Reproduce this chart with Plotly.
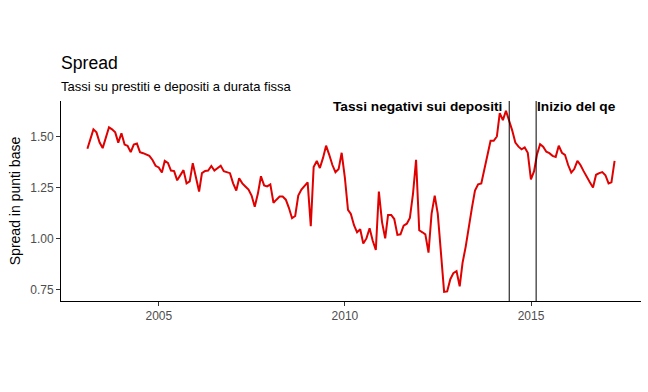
import plotly.graph_objects as go
import pandas as pd

# Monthly spread (end of month), Jan 2003 - Mar 2017
start_month = "2003-01-31"
end_month = "2017-03-31"
spread = [
    1.44, 1.49, 1.535, 1.52, 1.47, 1.443, 1.50, 1.545, 1.535, 1.52, 1.47, 1.516,
    1.46, 1.454, 1.423, 1.46, 1.465, 1.423, 1.418, 1.41, 1.405, 1.385, 1.356, 1.348,
    1.323, 1.38, 1.37, 1.333, 1.33, 1.285, 1.31, 1.335, 1.27, 1.28, 1.369, 1.30,
    1.23, 1.32, 1.331, 1.333, 1.355, 1.333, 1.343, 1.357, 1.33, 1.324, 1.32, 1.27,
    1.235, 1.295, 1.27, 1.255, 1.24, 1.21, 1.155, 1.22, 1.305, 1.26, 1.255, 1.265,
    1.175, 1.19, 1.205, 1.205, 1.19, 1.15, 1.099, 1.11, 1.21, 1.24, 1.26, 1.275,
    1.06, 1.35, 1.38, 1.345, 1.395, 1.455, 1.41, 1.36, 1.325, 1.34, 1.42, 1.30,
    1.14, 1.12, 1.065, 1.03, 1.045, 0.975, 1.0, 1.05, 0.99, 0.943, 1.23, 1.08,
    1.0, 1.115, 1.115, 1.095, 1.017, 1.02, 1.063, 1.072, 1.10, 1.22, 1.386, 1.04,
    1.03, 1.02, 0.93, 1.12, 1.21, 1.12, 0.93, 0.738, 0.74, 0.80, 0.83, 0.84,
    0.765, 0.88, 0.96, 1.06, 1.15, 1.235, 1.265, 1.27, 1.335, 1.405, 1.479, 1.479,
    1.50, 1.615, 1.58, 1.626, 1.58, 1.53, 1.47, 1.45, 1.437, 1.446, 1.42, 1.29,
    1.33, 1.41, 1.462, 1.45, 1.425, 1.418, 1.405, 1.40, 1.455, 1.42, 1.41, 1.36,
    1.323, 1.34, 1.38, 1.36, 1.33, 1.30, 1.275, 1.25, 1.312, 1.32, 1.325, 1.31,
    1.27, 1.275, 1.38,
]

event_dates = ["2014-06-01", "2015-02-20"]
event_labels = ["Tassi negativi sui depositi", "Inizio del qe"]
event_label_y = 1.646

x_tick_vals = ["2005-01-01", "2010-01-01", "2015-01-01"]
x_tick_text = ["2005", "2010", "2015"]
y_tick_vals = [0.75, 1.00, 1.25, 1.50]

title_text = "Spread"
subtitle_text = "Tassi su prestiti e depositi a durata fissa"
y_title = "Spread in punti base"

try:
    dates = pd.date_range(start_month, end_month, freq="ME")
except Exception:
    dates = pd.date_range(start_month, end_month, freq="M")

FONT = "Liberation Sans, Arial, sans-serif"

fig = go.Figure()
fig.add_trace(go.Scatter(
    x=dates, y=spread, mode="lines",
    line=dict(color="#e00000", width=2),
    showlegend=False, hoverinfo="skip",
))

for d in event_dates:
    fig.add_shape(type="line", xref="x", yref="paper", x0=d, x1=d, y0=0, y1=1,
                  line=dict(color="black", width=1))

fig.add_annotation(x=event_dates[0], y=event_label_y, xref="x", yref="y",
                   text="<b>" + event_labels[0] + "</b>", showarrow=False,
                   xanchor="right", yanchor="middle", xshift=-5,
                   font=dict(family=FONT, size=13.7, color="black"))
fig.add_annotation(x=event_dates[1], y=event_label_y, xref="x", yref="y",
                   text="<b>" + event_labels[1] + "</b>", showarrow=False,
                   xanchor="left", yanchor="middle", xshift=-1,
                   font=dict(family=FONT, size=13.7, color="black"))

# Title and subtitle
fig.add_annotation(x=0, y=1.19, xref="paper", yref="paper", text=title_text,
                   showarrow=False, xanchor="left", yanchor="middle", xshift=-2,
                   font=dict(family=FONT, size=17.6, color="black"))
fig.add_annotation(x=0, y=1.07, xref="paper", yref="paper", text=subtitle_text,
                   showarrow=False, xanchor="left", yanchor="middle", xshift=-2,
                   font=dict(family=FONT, size=13, color="black"))

fig.update_layout(
    width=648, height=392,
    margin=dict(l=61, r=7, t=101, b=91),
    paper_bgcolor="white", plot_bgcolor="white",
    font=dict(family=FONT),
)
fig.update_xaxes(
    type="date", range=["2002-05-17", "2017-12-15"],
    tickvals=x_tick_vals, ticktext=x_tick_text,
    showline=True, linecolor="black", linewidth=1,
    ticks="outside", ticklen=4, tickcolor="#333333",
    showgrid=False, zeroline=False,
    tickfont=dict(family=FONT, size=12, color="#4d4d4d"),
)
fig.update_yaxes(
    range=[0.693, 1.674], tickvals=y_tick_vals, tickformat=".2f",
    showline=True, linecolor="black", linewidth=1,
    ticks="outside", ticklen=4, tickcolor="#333333",
    showgrid=False, zeroline=False,
    tickfont=dict(family=FONT, size=12, color="#4d4d4d"),
    title=dict(text=y_title, font=dict(family=FONT, size=14, color="black"), standoff=6),
)

fig.write_html("out.html", config={"displayModeBar": False},
               post_script="document.body.style.margin='0';")
